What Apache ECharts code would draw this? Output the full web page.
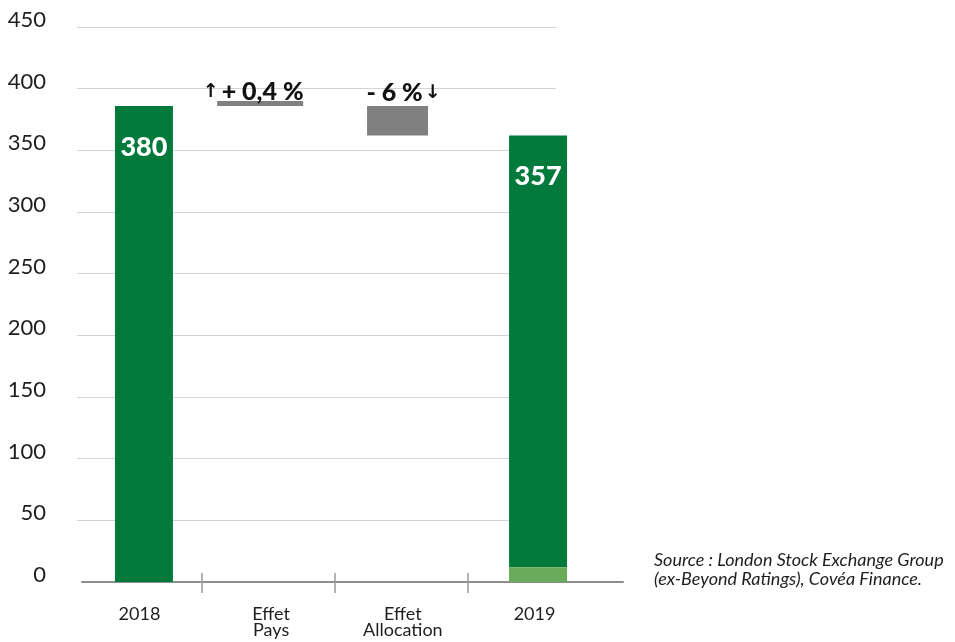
<!DOCTYPE html>
<html><head><meta charset="utf-8">
<script src="https://cdn.jsdelivr.net/npm/echarts@6/dist/echarts.min.js"></script>
<style>html,body{margin:0;padding:0;background:#fff}#c{width:955px;height:642px}</style>
</head><body><div id="c"></div>
<script>
// ---- data ----
const categories = ['2018', 'Effet\nPays', 'Effet\nAllocation', '2019'];
const yMin = 0, yMax = 450, yStep = 50;
const barStart = [0, 386, 386, 0];
const barEnd = [386, 390, 362, 362];
const lightPart = [0, 0, 0, 12];
const barKinds = ['total', 'up', 'down', 'total'];
const barLabels = ['380', '+ 0,4 %', '- 6 %', '357'];
const sourceLines = ['Source : London Stock Exchange Group', '(ex-Beyond Ratings), Covéa Finance.'];

// ---- styles ----
const GREEN = '#017a3c', LIGHT = '#69ab5a', GRAY = '#808080', TXT = '#1e1e1e';
const FONT = 'Lato';
const X_OFF = [4.5, -11, -5.3, 3.5];
const W = [58, 86, 61, 58];

const mainData = categories.map((c, i) => [i, barStart[i] + lightPart[i], barEnd[i]]);
const lightData = categories.map((c, i) => [i, 0, lightPart[i]]).filter(d => d[2] > 0);

function renderMain(params, api) {
  const i = api.value(0);
  const cx = api.coord([i, 0])[0] + X_OFF[i];
  const y0 = api.coord([i, api.value(1)])[1];
  const y1 = api.coord([i, api.value(2)])[1];
  const top = Math.min(y0, y1), h = Math.abs(y1 - y0);
  const kind = barKinds[i];
  const ch = [{type: 'rect', shape: {x: cx - W[i] / 2, y: top, width: W[i], height: h},
    style: {fill: kind === 'total' ? GREEN : GRAY}}];
  if (kind === 'total') {
    ch.push({type: 'text', style: {text: barLabels[i], x: cx, y: top + 41, align: 'center', verticalAlign: 'middle',
      fill: '#fff', font: '900 27px ' + FONT}});
  } else {
    const rich = {
      a: {fontFamily: 'DejaVu Sans', fontWeight: 'bold', fontSize: 19, fill: '#111', verticalAlign: 'middle', padding: kind === 'up' ? [0, 3, 0, 0] : [0, 0, 0, 2]},
      b: {fontFamily: FONT, fontWeight: 900, fontSize: 25, fill: '#111', verticalAlign: 'middle'}
    };
    const txt = kind === 'up' ? '{a|↑}{b|' + barLabels[i] + '}' : '{b|' + barLabels[i] + '}{a|↓}';
    ch.push({type: 'text', style: {text: txt, rich: rich, x: cx + (kind === 'up' ? -7 : 6), y: top - (kind === 'up' ? 9 : 13),
      align: 'center', verticalAlign: 'middle'}});
  }
  return {type: 'group', children: ch};
}
function renderLight(params, api) {
  const i = api.value(0);
  const cx = api.coord([i, 0])[0] + X_OFF[i];
  const y0 = api.coord([i, api.value(1)])[1];
  const y1 = api.coord([i, api.value(2)])[1];
  return {type: 'rect', shape: {x: cx - W[i] / 2, y: Math.min(y0, y1), width: W[i], height: Math.abs(y1 - y0)},
    style: {fill: LIGHT}};
}

const hiddenY = (g) => ({gridIndex: g, type: 'value', min: yMin, max: yMax, show: false});
const chart = echarts.init(document.getElementById('c'), null, {renderer: 'canvas'});
chart.setOption({
  animation: false,
  backgroundColor: '#fff',
  grid: [
    {left: 77, right: 399, top: 27, bottom: 60},
    {left: 82, right: 332, top: 27, bottom: 60},
    {left: 202, right: 487, top: 27, bottom: 60},
    {left: 73.6, right: 354.6, top: 27, bottom: 60}
  ],
  xAxis: [
    {gridIndex: 0, type: 'category', data: categories, show: false},
    {gridIndex: 1, type: 'value', min: 0, max: 1, position: 'bottom',
      axisLine: {show: true, lineStyle: {color: '#8e8e8e', width: 2}}, axisTick: {show: false}, axisLabel: {show: false}, splitLine: {show: false}},
    {gridIndex: 2, type: 'value', min: 0, max: 2, interval: 1, position: 'bottom',
      axisLine: {show: false}, axisTick: {show: true, inside: false, length: 11, lineStyle: {color: '#9a9a9a', width: 1.5}},
      axisLabel: {show: false}, splitLine: {show: false}},
    {gridIndex: 2, type: 'value', min: 0, max: 2, interval: 1, position: 'bottom', offset: 0,
      axisLine: {show: false}, axisTick: {show: true, inside: true, length: 9, lineStyle: {color: '#9a9a9a', width: 1.5}},
      axisLabel: {show: false}, splitLine: {show: false}},
    {gridIndex: 3, type: 'category', data: categories, position: 'bottom',
      axisLine: {show: false}, axisTick: {show: false}, splitLine: {show: false},
      axisLabel: {margin: 24, fontSize: 18, lineHeight: 16, color: TXT, fontFamily: FONT}}
  ],
  yAxis: [
    {gridIndex: 0, type: 'value', min: yMin, max: yMax, interval: yStep,
      axisLine: {show: false}, axisTick: {show: false},
      splitLine: {show: true, showMinLine: false, lineStyle: {color: '#d4d4d4', width: 1}},
      axisLabel: {fontSize: 22, color: TXT, fontFamily: FONT, margin: 31, verticalAlign: 'bottom', lineHeight: 14}},
    hiddenY(1), hiddenY(2), hiddenY(3)
  ],
  series: [
    {type: 'custom', name: 'main', xAxisIndex: 4, yAxisIndex: 3, renderItem: renderMain, data: mainData, clip: false},
    {type: 'custom', name: 'light', xAxisIndex: 4, yAxisIndex: 3, renderItem: renderLight, data: lightData, clip: false}
  ],
  graphic: [{
    type: 'text', left: 654, top: 550,
    style: {text: sourceLines.join('\n'), font: 'italic 18px ' + FONT, lineHeight: 19.5, fill: TXT}
  }]
});
</script></body></html>
